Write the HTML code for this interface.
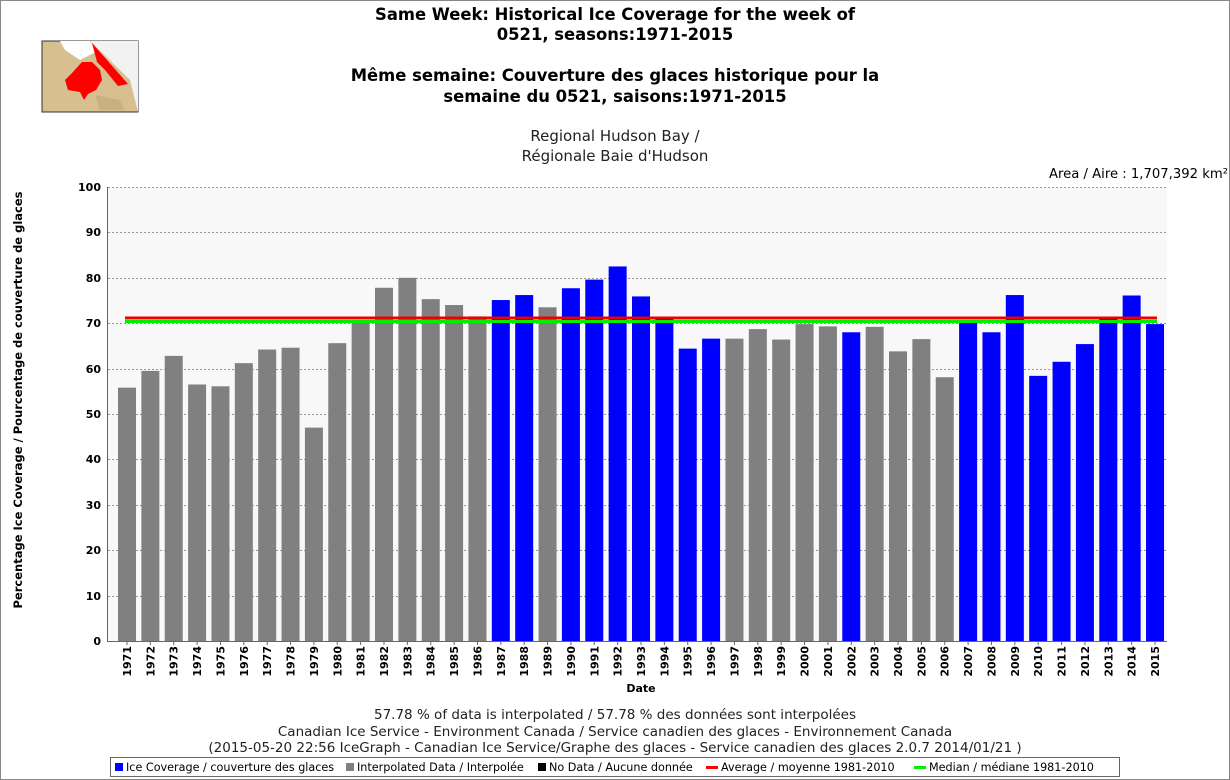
<!DOCTYPE html>
<html><head><meta charset="utf-8"><style>
html,body{margin:0;padding:0;background:#fff}
svg{display:block;font-family:"DejaVu Sans","Liberation Sans",sans-serif}
</style></head><body>
<svg width="1230" height="780" xmlns="http://www.w3.org/2000/svg">
<rect x="0.5" y="0.5" width="1229" height="779" fill="#fff" stroke="#888"/>
<g>
<rect x="42" y="41" width="96" height="71" fill="#d7bf8f" stroke="#333"/>
<polygon points="90,41 138,41 138,112 130,80" fill="#f2f2f2"/>
<polygon points="60,41 90,41 96,52 80,60 65,50" fill="#fff"/>
<polygon points="92,43 128,84 118,86 105,70 97,62" fill="#f00"/>
<polygon points="72,73 82,62 92,62 100,70 102,80 96,90 88,94 84,100 80,92 68,90 65,80" fill="#f00"/>
<polygon points="95,95 120,100 125,110 100,110" fill="#c9b080"/>
</g>
<g font-weight="bold" font-size="16.4" text-anchor="middle" fill="#000">
<text x="615" y="20">Same Week: Historical Ice Coverage for the week of</text>
<text x="615" y="40">0521, seasons:1971-2015</text>
<text x="615" y="81">Même semaine: Couverture des glaces historique pour la</text>
<text x="615" y="102">semaine du 0521, saisons:1971-2015</text>
</g>
<g font-size="15" text-anchor="middle" fill="#222">
<text x="615" y="141">Regional Hudson Bay /</text>
<text x="615" y="161">Régionale Baie d'Hudson</text>
</g>
<text x="1228" y="178" font-size="13.2" text-anchor="end">Area / Aire : 1,707,392 km²</text>
<rect x="108" y="187" width="1059" height="454" fill="#f8f8f8"/>
<g stroke="#999" stroke-dasharray="2,2" stroke-width="1">
<line x1="108" x2="1167" y1="187.5" y2="187.5"/><line x1="108" x2="1167" y1="232.5" y2="232.5"/>
<line x1="108" x2="1167" y1="278.5" y2="278.5"/><line x1="108" x2="1167" y1="323.5" y2="323.5"/>
<line x1="108" x2="1167" y1="369.5" y2="369.5"/><line x1="108" x2="1167" y1="414.5" y2="414.5"/>
<line x1="108" x2="1167" y1="459.5" y2="459.5"/><line x1="108" x2="1167" y1="505.5" y2="505.5"/>
<line x1="108" x2="1167" y1="550.5" y2="550.5"/><line x1="108" x2="1167" y1="596.5" y2="596.5"/>
</g>
<g id="bars"></g>
<line x1="125" x2="1157" y1="318" y2="318" stroke="#e00" stroke-width="3"/>
<line x1="125" x2="1157" y1="321.5" y2="321.5" stroke="#0e0" stroke-width="3"/>
<line x1="107.5" x2="107.5" y1="187" y2="641" stroke="#666"/>
<line x1="107" x2="1167" y1="641.5" y2="641.5" stroke="#666"/>
<g font-size="11" font-weight="bold" text-anchor="end">
<text x="101" y="191">100</text><text x="101" y="236">90</text><text x="101" y="282">80</text>
<text x="101" y="327">70</text><text x="101" y="373">60</text><text x="101" y="418">50</text>
<text x="101" y="463">40</text><text x="101" y="509">30</text><text x="101" y="554">20</text>
<text x="101" y="600">10</text><text x="101" y="645">0</text>
</g>
<text transform="translate(22,400) rotate(-90)" font-size="11.5" font-weight="bold" text-anchor="middle">Percentage Ice Coverage / Pourcentage de couverture de glaces</text>
<g id="ticks" stroke="#666"></g>
<g font-size="11" font-weight="bold" text-anchor="end">
<text transform="translate(131,646) rotate(-90)">1971</text>
<text transform="translate(154.4,646) rotate(-90)">1972</text>
<text transform="translate(177.7,646) rotate(-90)">1973</text>
<text transform="translate(201.1,646) rotate(-90)">1974</text>
<text transform="translate(224.5,646) rotate(-90)">1975</text>
<text transform="translate(247.8,646) rotate(-90)">1976</text>
<text transform="translate(271.2,646) rotate(-90)">1977</text>
<text transform="translate(294.5,646) rotate(-90)">1978</text>
<text transform="translate(317.9,646) rotate(-90)">1979</text>
<text transform="translate(341.3,646) rotate(-90)">1980</text>
<text transform="translate(364.6,646) rotate(-90)">1981</text>
<text transform="translate(388,646) rotate(-90)">1982</text>
<text transform="translate(411.4,646) rotate(-90)">1983</text>
<text transform="translate(434.7,646) rotate(-90)">1984</text>
<text transform="translate(458.1,646) rotate(-90)">1985</text>
<text transform="translate(481.5,646) rotate(-90)">1986</text>
<text transform="translate(504.8,646) rotate(-90)">1987</text>
<text transform="translate(528.2,646) rotate(-90)">1988</text>
<text transform="translate(551.5,646) rotate(-90)">1989</text>
<text transform="translate(574.9,646) rotate(-90)">1990</text>
<text transform="translate(598.3,646) rotate(-90)">1991</text>
<text transform="translate(621.6,646) rotate(-90)">1992</text>
<text transform="translate(645,646) rotate(-90)">1993</text>
<text transform="translate(668.4,646) rotate(-90)">1994</text>
<text transform="translate(691.7,646) rotate(-90)">1995</text>
<text transform="translate(715.1,646) rotate(-90)">1996</text>
<text transform="translate(738.5,646) rotate(-90)">1997</text>
<text transform="translate(761.8,646) rotate(-90)">1998</text>
<text transform="translate(785.2,646) rotate(-90)">1999</text>
<text transform="translate(808.5,646) rotate(-90)">2000</text>
<text transform="translate(831.9,646) rotate(-90)">2001</text>
<text transform="translate(855.3,646) rotate(-90)">2002</text>
<text transform="translate(878.6,646) rotate(-90)">2003</text>
<text transform="translate(902,646) rotate(-90)">2004</text>
<text transform="translate(925.4,646) rotate(-90)">2005</text>
<text transform="translate(948.7,646) rotate(-90)">2006</text>
<text transform="translate(972.1,646) rotate(-90)">2007</text>
<text transform="translate(995.5,646) rotate(-90)">2008</text>
<text transform="translate(1018.8,646) rotate(-90)">2009</text>
<text transform="translate(1042.2,646) rotate(-90)">2010</text>
<text transform="translate(1065.5,646) rotate(-90)">2011</text>
<text transform="translate(1088.9,646) rotate(-90)">2012</text>
<text transform="translate(1112.3,646) rotate(-90)">2013</text>
<text transform="translate(1135.6,646) rotate(-90)">2014</text>
<text transform="translate(1159,646) rotate(-90)">2015</text>
</g>
<text x="641" y="692" font-size="11" font-weight="bold" text-anchor="middle">Date</text>
<g font-size="13.5" text-anchor="middle" fill="#222">
<text x="615" y="719">57.78 % of data is interpolated / 57.78 % des données sont interpolées</text>
<text x="615" y="736">Canadian Ice Service - Environment Canada / Service canadien des glaces - Environnement Canada</text>
<text x="615" y="752">(2015-05-20 22:56 IceGraph - Canadian Ice Service/Graphe des glaces - Service canadien des glaces 2.0.7 2014/01/21 )</text>
</g>
<rect x="110.5" y="757.5" width="1009" height="19" fill="#fff" stroke="#666"/>
<g font-size="11.2">
<rect x="115" y="763" width="8" height="8" fill="#00f"/><text x="126" y="771">Ice Coverage / couverture des glaces</text>
<rect x="346" y="763" width="8" height="8" fill="#808080"/><text x="357" y="771">Interpolated Data / Interpolée</text>
<rect x="538" y="763" width="8" height="8" fill="#000"/><text x="549" y="771">No Data / Aucune donnée</text>
<rect x="706" y="766" width="12" height="3" fill="#f00"/><text x="721" y="771">Average / moyenne 1981-2010</text>
<rect x="914" y="766" width="12" height="3" fill="#0e0"/><text x="929" y="771">Median / médiane 1981-2010</text>
</g>
</svg>
<script>
var v=[55.8,59.5,62.8,56.5,56.1,61.2,64.2,64.6,47,65.6,70.3,77.8,80,75.3,74,71.5,75.1,76.2,73.5,77.7,79.6,82.5,75.9,71.4,64.4,66.6,66.6,68.7,66.4,69.8,69.3,68,69.2,63.8,66.5,58.1,70.5,68,76.2,58.4,61.5,65.4,71.4,76.1,69.8];
var b="0000000000000000"+"11"+"0"+"1111111"+"00000"+"1"+"0000"+"111111111";
var g=document.getElementById('bars'),t=document.getElementById('ticks'),ns="http://www.w3.org/2000/svg";
for(var i=0;i<45;i++){var c=127+i*23.364,h=v[i]*4.54;
var r=document.createElementNS(ns,'rect');r.setAttribute('x',c-9);r.setAttribute('width',18);r.setAttribute('y',641-h);r.setAttribute('height',h);
r.setAttribute('fill',b[i]=='1'?'#0000ff':'#808080');g.appendChild(r);
var l=document.createElementNS(ns,'line');l.setAttribute('x1',c);l.setAttribute('x2',c);l.setAttribute('y1',641);l.setAttribute('y2',645);t.appendChild(l);}
</script>
</body></html>
